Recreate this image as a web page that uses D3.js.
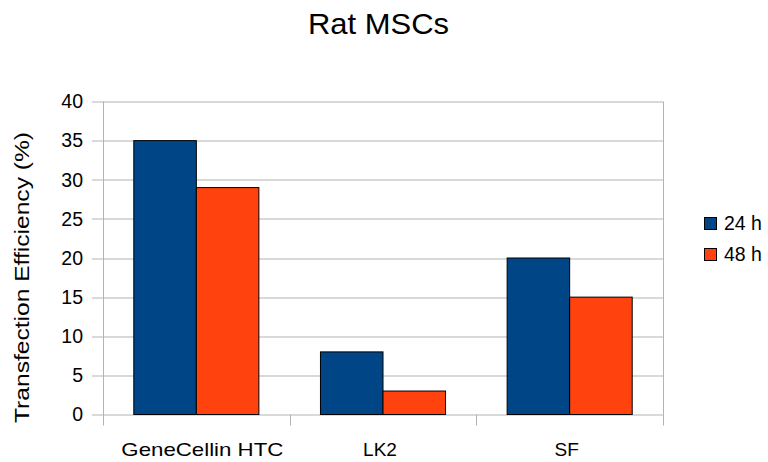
<!DOCTYPE html>
<html>
<head>
<meta charset="utf-8">
<script src="https://cdn.jsdelivr.net/npm/d3@7"></script>
<style>
  body { margin: 0; background: #fff; }
  text { font-family: "Liberation Sans", Arial, sans-serif; fill: #000; }
</style>
</head>
<body>
<svg id="chart" width="768" height="462"></svg>
<script>
var categories = ['GeneCellin HTC', 'LK2', 'SF'];
var seriesNames = ['24 h', '48 h'];
var values24 = [35, 8, 20];
var values48 = [29, 3, 15];
var yTicks = [0, 5, 10, 15, 20, 25, 30, 35, 40];
var colors = ['#004586', '#ff420e'];

var margin = {left: 103, top: 101.5, right: 105, bottom: 47.5};
var width = 768 - margin.left - margin.right,
    height = 462 - margin.top - margin.bottom;

var svg = d3.select('#chart');

svg.append('text')
   .attr('x', 378.5)
   .attr('y', 34)
   .attr('text-anchor', 'middle')
   .attr('textLength', 141)
   .attr('lengthAdjust', 'spacingAndGlyphs')
   .style('font-size', '29px')
   .text('Rat MSCs');

var g = svg.append('g')
   .attr('transform', 'translate(' + margin.left + ',' + margin.top + ')');

var x0 = d3.scaleBand().domain(categories).range([0, width]);
var x1 = d3.scaleBand().domain(seriesNames)
   .range([x0.bandwidth() * 0.165, x0.bandwidth() * 0.835]);
var y = d3.scaleLinear().domain([0, 40]).range([height, 0]);

// grid lines
g.selectAll('.grid')
 .data(yTicks)
 .enter().append('line')
 .attr('x1', -11)
 .attr('x2', width)
 .attr('y1', function(d){ return Math.round(y(d)) + 0.5; })
 .attr('y2', function(d){ return Math.round(y(d)) + 0.5; })
 .style('stroke', '#b3b3b3')
 .style('stroke-width', 1);

// y tick labels
g.selectAll('.ylab')
 .data(yTicks)
 .enter().append('text')
 .attr('x', -20)
 .attr('y', function(d){ return y(d); })
 .attr('dy', '0.35em')
 .attr('text-anchor', 'end')
 .style('font-size', '19.5px')
 .text(function(d){ return d; });

// vertical axis + category separators
var seps = [0, 1, 2, 3];
g.selectAll('.sep')
 .data(seps)
 .enter().append('line')
 .attr('x1', function(d){ return Math.round(d * x0.bandwidth()) + 0.5; })
 .attr('x2', function(d){ return Math.round(d * x0.bandwidth()) + 0.5; })
 .attr('y1', function(d){ return d == 0 ? 0 : height; })
 .attr('y2', height + 11)
 .style('stroke', '#b3b3b3');
g.append('line')
 .attr('x1', width + 0.5).attr('x2', width + 0.5)
 .attr('y1', 0).attr('y2', height)
 .style('stroke', '#b3b3b3');

// bars
var table = [];
for(var i = 0; i < categories.length; i ++){
  table.push({cat: categories[i], s: seriesNames[0], v: values24[i], c: colors[0]});
  table.push({cat: categories[i], s: seriesNames[1], v: values48[i], c: colors[1]});
}
g.selectAll('.bar')
 .data(table)
 .enter().append('rect')
 .attr('x', function(d){ return x0(d.cat) + x1(d.s); })
 .attr('y', function(d){ return y(d.v); })
 .attr('width', x1.bandwidth())
 .attr('height', function(d){ return height - y(d.v); })
 .style('fill', function(d){ return d.c; })
 .style('stroke', '#000')
 .style('stroke-width', 1);

// category labels
g.selectAll('.xlab')
 .data(categories)
 .enter().append('text')
 .attr('x', function(d){ return x0(d) + x0.bandwidth() / 2 + (d.length > 5 ? 6 : -3); })
 .attr('y', height + 41)
 .attr('text-anchor', 'middle')
 .attr('textLength', function(d){ return d.length > 5 ? 162 : null; })
 .attr('lengthAdjust', 'spacingAndGlyphs')
 .style('font-size', '19px')
 .text(function(d){ return d; });

// y axis title
svg.append('text')
 .attr('transform', 'translate(29,277.5) rotate(-90)')
 .attr('text-anchor', 'middle')
 .attr('textLength', 291)
 .attr('lengthAdjust', 'spacingAndGlyphs')
 .style('font-size', '20px')
 .text('Transfection Efficiency (%)');

// legend
var legend = svg.append('g').attr('transform', 'translate(704,217)');
seriesNames.forEach(function(s, i){
  legend.append('rect')
   .attr('x', 0.5)
   .attr('y', i * 31 + 0.5)
   .attr('width', 12)
   .attr('height', 12)
   .style('fill', colors[i])
   .style('stroke', '#000');
  legend.append('text')
   .attr('x', 20)
   .attr('y', i * 31 + 6)
   .attr('dy', '0.35em')
   .style('font-size', '19.5px')
   .text(s);
});
</script>
</body>
</html>
